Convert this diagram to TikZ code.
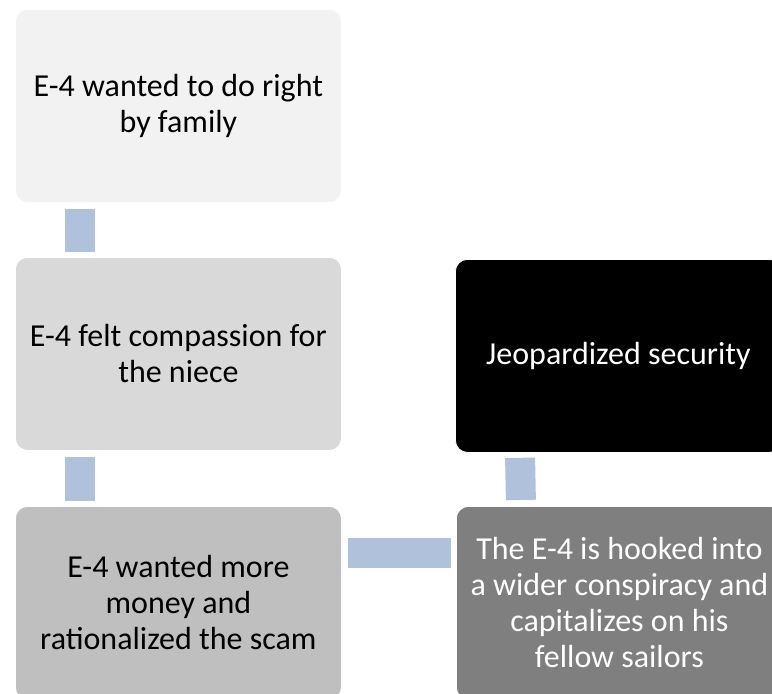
\documentclass[tikz,border=0pt]{standalone}
\usepackage{fontspec}
\setmainfont{Carlito}
\usetikzlibrary{calc}
\definecolor{linkblue}{RGB}{176,193,219}
\tikzset{
  stepbox/.style={rectangle, rounded corners=12pt, draw=white, line width=0.8pt,
    minimum width=326pt, minimum height=193pt, anchor=north west,
    align=center, inner sep=0pt, font=\fontsize{32}{36}\selectfont},
  link/.style={draw=linkblue, line width=30pt, shorten <=6pt, shorten >=5pt}
}
\begin{document}
\begin{tikzpicture}[x=1pt,y=-1pt]
  \useasboundingbox (0,0) rectangle (772,694);
  \fill[white] (0,0) rectangle (772,694);

  % left column
  \node[stepbox, fill={rgb,255:red,242;green,242;blue,242}] (b1) at (15,9)
    {E-4 wanted to do right\\by family};
  \node[stepbox, fill={rgb,255:red,217;green,217;blue,217}] (b2) at (15,257)
    {E-4 felt compassion for\\the niece};
  \node[stepbox, fill={rgb,255:red,191;green,191;blue,191}] (b3) at (15,506)
    {E-4 wanted more\\money and\\rationalized the scam};

  % right column
  \node[stepbox, fill={rgb,255:red,127;green,127;blue,127}, text=white] (b4) at (456,506)
    {The E-4 is hooked into\\a wider conspiracy and\\capitalizes on his\\fellow sailors};
  \node[stepbox, fill=black, text=white] (b5) at (455,259)
    {Jeopardized security};

  % connectors between the steps
  \draw[link] ($(b1.south west)+(65,0)$) -- ($(b2.north west)+(65,0)$);
  \draw[link] ($(b2.south west)+(65,0)$) -- ($(b3.north west)+(65,0)$);
  \draw[link] ($(b3.north east)+(0,47)$) -- ($(b4.north west)+(0,47)$);
  \draw[link] ($(b4.north west)+(65,0)$) -- ($(b5.south west)+(65,0)$);
\end{tikzpicture}
\end{document}
